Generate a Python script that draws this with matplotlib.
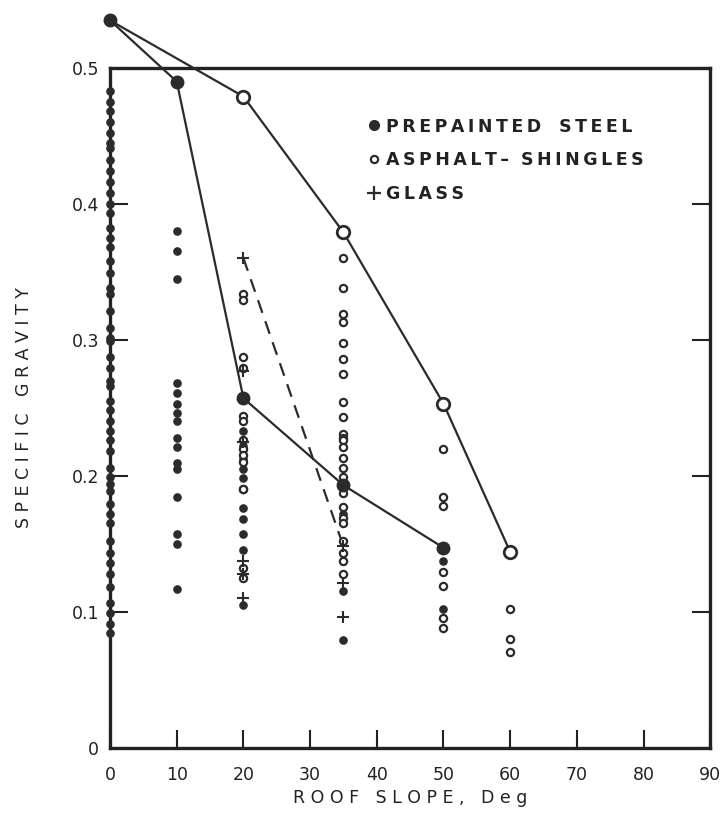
import matplotlib.pyplot as plt
from matplotlib.lines import Line2D

# readings: specific gravity at each roof slope (deg)
steel_0 = [0.483, 0.475, 0.468, 0.46, 0.452, 0.445, 0.441, 0.432, 0.424, 0.416, 0.408, 0.40,
           0.393, 0.382, 0.375, 0.368, 0.358, 0.349, 0.338, 0.334, 0.321, 0.309, 0.301,
           0.299, 0.287, 0.279, 0.270, 0.266, 0.255, 0.248, 0.240, 0.233, 0.226, 0.218,
           0.206, 0.199, 0.194, 0.189, 0.179, 0.172, 0.165, 0.152, 0.143, 0.136, 0.128,
           0.118, 0.106, 0.099, 0.091, 0.084]
steel_10 = [0.380, 0.365, 0.345, 0.268, 0.261, 0.253, 0.246, 0.240, 0.228, 0.221, 0.209,
            0.205, 0.184, 0.157, 0.150, 0.117]
steel_20 = [0.233, 0.222, 0.212, 0.205, 0.198, 0.176, 0.168, 0.157, 0.145, 0.125, 0.105]
steel_35 = [0.172, 0.137, 0.115, 0.079]
steel_50 = [0.137, 0.102]

asph_20 = [0.334, 0.329, 0.287, 0.279, 0.244, 0.240, 0.226, 0.220, 0.215, 0.210, 0.190,
           0.190, 0.132, 0.125]
asph_35 = [0.360, 0.338, 0.319, 0.313, 0.298, 0.286, 0.275, 0.254, 0.243, 0.231, 0.228,
           0.226, 0.221, 0.213, 0.206, 0.199, 0.187, 0.177, 0.169, 0.165, 0.152, 0.143,
           0.137, 0.128]
asph_50 = [0.220, 0.184, 0.178, 0.129, 0.119, 0.095, 0.088]
asph_60 = [0.102, 0.080, 0.070]

glass_20 = [0.360, 0.277, 0.225, 0.137, 0.128, 0.110]
glass_35 = [0.148, 0.121, 0.096]

# the three connected envelopes
steel_line_x = [0, 10, 20, 35, 50]
steel_line_y = [0.535, 0.490, 0.257, 0.193, 0.147]
asph_line_x = [0, 20, 35, 50, 60]
asph_line_y = [0.535, 0.479, 0.379, 0.253, 0.144]
glass_line_x = [20, 35]
glass_line_y = [0.360, 0.148]

fig = plt.figure(figsize=(7.24, 8.39), dpi=100)
ax = fig.add_axes([0.152, 0.109, 0.829, 0.81])

small = dict(ms=5.2, ls='none', clip_on=False, zorder=4)
for x, ys in [(0, steel_0), (10, steel_10), (20, steel_20), (35, steel_35), (50, steel_50)]:
    ax.plot([x] * len(ys), ys, 'o', color='#2b2b2b', **small)
for x, ys in [(20, asph_20), (35, asph_35), (50, asph_50), (60, asph_60)]:
    ax.plot([x] * len(ys), ys, 'o', mfc='white', mec='#2b2b2b', mew=1.6, **small)
for x, ys in [(20, glass_20), (35, glass_35)]:
    ax.plot([x] * len(ys), ys, '+', color='#2b2b2b', ms=9, mew=1.5, ls='none',
            clip_on=False, zorder=5)

ax.plot(steel_line_x, steel_line_y, '-', color='#2b2b2b', lw=1.6, clip_on=False, zorder=3)
ax.plot(steel_line_x, steel_line_y, 'o', color='#2b2b2b', ms=9, clip_on=False, zorder=6)
ax.plot(asph_line_x, asph_line_y, '-', color='#2b2b2b', lw=1.6, clip_on=False, zorder=3)
ax.plot(asph_line_x[1:], asph_line_y[1:], 'o', mfc='white', mec='#2b2b2b', mew=2,
        ms=9, clip_on=False, zorder=6)
ax.plot(glass_line_x, glass_line_y, '--', color='#2b2b2b', lw=1.6, dashes=(6, 4), zorder=3)

ax.set_xlim(0, 90)
ax.set_ylim(0, 0.5)
ax.set_xticks(range(0, 100, 10))
ax.set_yticks([0, 0.1, 0.2, 0.3, 0.4, 0.5])
ax.set_yticklabels(['0', '0.1', '0.2', '0.3', '0.4', '0.5'])
ax.tick_params(axis='both', direction='in', length=13, width=1.5, labelsize=12.5,
               colors='#222222')
ax.tick_params(axis='x', pad=13)
ax.tick_params(axis='y', right=True, pad=8)
for s in ax.spines.values():
    s.set_linewidth(2.4)
    s.set_color('#222222')

ax.set_ylabel('S P E C I F I C   G R A V I T Y', fontsize=12.5, labelpad=28,
              color='#222222')
ax.set_xlabel('R O O F   S L O P E ,   D e g', fontsize=12.5, labelpad=4,
              color='#222222')

handles = [
    Line2D([], [], marker='o', ls='none', color='#2b2b2b', ms=7),
    Line2D([], [], marker='o', ls='none', mfc='white', mec='#2b2b2b', mew=1.6, ms=5.2),
    Line2D([], [], marker='+', ls='none', color='#2b2b2b', ms=10, mew=1.6),
]
labels = ['P\u2009R\u2009E\u2009P\u2009A\u2009I\u2009N\u2009T\u2009E\u2009D   S\u2009T\u2009E\u2009E\u2009L',
          'A\u2009S\u2009P\u2009H\u2009A\u2009L\u2009T\u2009\u2013  S\u2009H\u2009I\u2009N\u2009G\u2009L\u2009E\u2009S',
          'G\u2009L\u2009A\u2009S\u2009S']
ax.legend(handles, labels, loc='upper left', bbox_to_anchor=(0.405, 0.95), frameon=False,
          prop=dict(size=12.5, weight='bold'), handlelength=0.6, handletextpad=0.4,
          labelspacing=0.9, labelcolor='#222222')

fig.savefig('out.png', dpi=100)
